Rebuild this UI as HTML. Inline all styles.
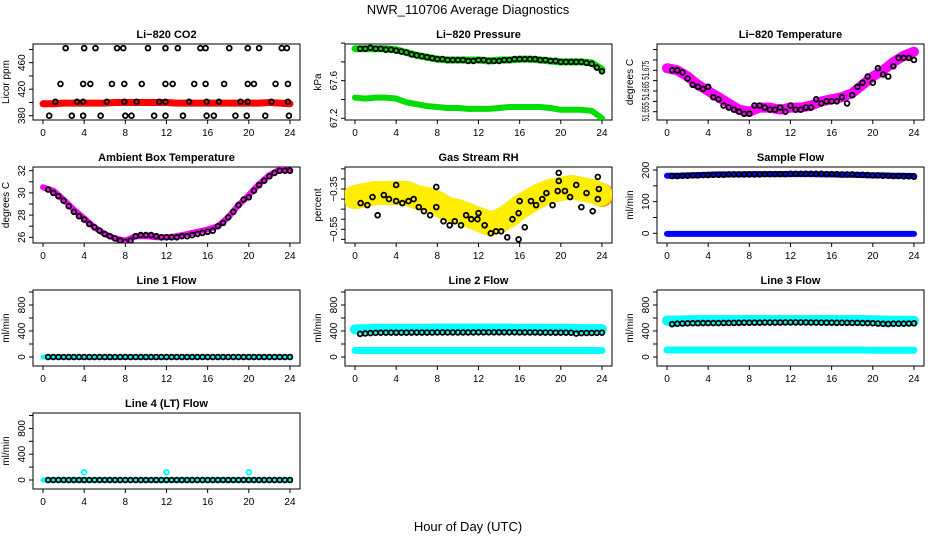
<!DOCTYPE html>
<html><head><meta charset="utf-8"><style>
body{margin:0;background:#fff;}
svg{display:block;font-family:"Liberation Sans",sans-serif;}
</style></head><body>
<svg id="c" width="936" height="540" xmlns="http://www.w3.org/2000/svg">
<text x="468" y="14" text-anchor="middle" font-size="13">NWR_110706  Average Diagnostics</text>
<text x="468" y="531" text-anchor="middle" font-size="13">Hour of Day (UTC)</text>
</svg>
<script>
// ---------- data ----------
const H48=[0.5,1,1.5,2,2.5,3,3.5,4,4.5,5,5.5,6,6.5,7,7.5,8,8.5,9,9.5,10,10.5,11,11.5,12,12.5,13,13.5,14,14.5,15,15.5,16,16.5,17,17.5,18,18.5,19,19.5,20,20.5,21,21.5,22,22.5,23,23.5,24];
const H25=[0,1,2,3,4,5,6,7,8,9,10,11,12,13,14,15,16,17,18,19,20,21,22,23,24];
const xTicks=[0,4,8,12,16,20,24];

const co2Hours=[2.2,4.0,5.1,7.2,7.8,10.2,11.9,13.1,15.3,15.8,18.1,19.9,21.0,23.2,23.7, 1.7,3.9,4.6,6.7,7.9,9.6,11.9,12.6,14.7,15.8,17.6,19.9,20.5,22.6,23.8, 1.2,3.3,3.9,6.2,7.9,9.1,11.3,11.9,14.2,15.9,17.1,19.2,19.9,22.2,23.8, 0.6,2.8,3.9,5.6,8.0,8.6,10.8,11.9,13.6,15.9,16.6,18.7,19.8,21.6,23.9];
const co2Vals=[482,482,482,482,482,482,482,482,482,482,482,482,482,482,482, 428,428,428,428,428,428,428,428,428,428,428,428,428,428,428, 401,401,401,401,401,401,401,401,401,401,401,401,401,401,401, 380,380,380,380,380,380,380,380,380,380,380,380,380,380,380];
const co2Band=[398,398,399,399,399,399,399,400,400,400,400,400,400,399,399,399,399,399,399,399,399,399,400,399,398];

const presBlack=[67.94,67.94,67.95,67.94,67.94,67.93,67.93,67.92,67.91,67.90,67.88,67.87,67.86,67.85,67.84,67.83,67.83,67.82,67.82,67.82,67.82,67.81,67.81,67.82,67.82,67.81,67.81,67.81,67.82,67.82,67.83,67.83,67.83,67.83,67.83,67.82,67.82,67.81,67.81,67.80,67.80,67.80,67.80,67.80,67.79,67.78,67.74,67.70];
const presBandHi=[67.94,67.94,67.94,67.94,67.93,67.90,67.87,67.85,67.83,67.82,67.82,67.82,67.82,67.81,67.82,67.82,67.83,67.83,67.82,67.81,67.80,67.80,67.80,67.79,67.72];
const presBandLo=[67.42,67.41,67.42,67.42,67.41,67.37,67.35,67.33,67.32,67.31,67.31,67.30,67.30,67.30,67.31,67.32,67.32,67.32,67.32,67.31,67.29,67.29,67.29,67.28,67.20];

const tempBlack=[51.675,51.675,51.674,51.671,51.668,51.667,51.666,51.667,51.662,51.661,51.658,51.657,51.656,51.655,51.654,51.654,51.658,51.658,51.657,51.656,51.656,51.657,51.655,51.658,51.656,51.656,51.657,51.657,51.661,51.659,51.660,51.660,51.660,51.662,51.659,51.663,51.667,51.669,51.672,51.669,51.676,51.673,51.672,51.677,51.681,51.681,51.681,51.680];
const tempBand=[51.676,51.675,51.672,51.668,51.665,51.662,51.659,51.656,51.655,51.657,51.657,51.656,51.657,51.657,51.658,51.660,51.661,51.662,51.664,51.668,51.672,51.675,51.679,51.682,51.684];

const ambBlack=[30.3,30.0,29.7,29.3,28.8,28.3,27.9,27.6,27.2,26.9,26.6,26.3,26.1,25.9,25.7,25.6,25.7,26.1,26.2,26.2,26.2,26.1,26.0,26.0,26.0,26.0,26.1,26.1,26.2,26.3,26.4,26.5,26.6,27.0,27.3,27.8,28.3,28.9,29.4,29.6,30.2,30.7,31.1,31.5,31.8,32.0,32.0,32.0];
const ambBand=[30.5,30.2,29.4,28.5,27.7,26.9,26.3,25.9,25.7,26.1,26.1,26.0,26.0,26.1,26.3,26.5,26.7,27.0,27.8,28.9,29.8,30.8,31.6,32.1,32.0];

const rhHours=[0.55,1.2,1.7,2.2,2.8,3.3,4,4,4.6,5.2,5.7,6.2,6.7,7.3,7.9,7.9,8.6,9.2,9.7,10.3,10.8,11.3,11.9,12,12.6,13.2,13.7,14.2,14.8,15.3,15.9,15.9,16,16.5,17.1,17.6,18.2,18.6,19.2,19.7,19.8,19.8,20.4,20.9,21.5,22,22.5,23.1,23.6,23.7,23.6];
const rhVals=[-0.42,-0.43,-0.39,-0.48,-0.38,-0.40,-0.41,-0.33,-0.42,-0.41,-0.40,-0.44,-0.46,-0.48,-0.34,-0.44,-0.51,-0.53,-0.51,-0.53,-0.48,-0.50,-0.50,-0.47,-0.53,-0.57,-0.56,-0.56,-0.59,-0.50,-0.47,-0.60,-0.41,-0.54,-0.41,-0.43,-0.40,-0.37,-0.43,-0.36,-0.31,-0.27,-0.36,-0.39,-0.33,-0.44,-0.37,-0.46,-0.29,-0.35,-0.40];
const rhBand=[-0.39,-0.38,-0.37,-0.37,-0.37,-0.37,-0.39,-0.40,-0.42,-0.45,-0.46,-0.48,-0.50,-0.52,-0.51,-0.48,-0.44,-0.41,-0.38,-0.36,-0.35,-0.34,-0.35,-0.36,-0.38];

const sampBlack=[181,181,182,182,183,183,184,184,185,185,185,186,186,186,186,186,186,186,187,187,187,187,187,188,188,188,188,188,188,188,187,187,187,186,186,186,185,185,184,183,183,182,182,181,181,180,180,179];
const sampBandHi=[182,182,183,184,185,186,186,186,187,187,187,187,187,187,187,186,186,185,185,184,183,183,182,182,181];
const sampBandLo=[-2,-2,-2,-2,-2,-2,-2,-2,-2,-2,-2,-2,-2,-2,-2,-2,-2,-2,-2,-2,-2,-2,-2,-2,-2];

const l1Black=[0,0,0,0,0,0,0,0,0,0,0,0,0,0,0,0,0,0,0,0,0,0,0,0,0,0,0,0,0,0,0,0,0,0,0,0,0,0,0,0,0,0,0,0,0,0,0,0];
const l1Band=[0,0,-5,-8,-8,-8,-8,-8,-8,-8,-8,-8,-5,0,0,0,0,0,0,0,0,0,0,0,0];

const l2Black=[355,362,368,372,374,375,375,375,375,375,376,376,376,376,377,378,378,378,378,378,378,378,379,380,380,380,380,380,380,380,380,379,378,378,378,376,376,376,375,375,375,374,360,368,370,370,372,374];
const l2BandHi=[425,428,432,432,432,432,432,432,438,438,438,438,438,438,438,438,432,432,432,432,432,432,430,430,430];
const l2BandLo=[100,100,100,100,100,100,100,100,100,100,100,100,100,100,100,100,100,100,100,100,100,100,100,100,100];

const l3Black=[505,512,515,518,520,520,522,522,522,522,524,524,525,526,528,528,528,528,530,530,530,530,532,532,532,532,532,530,530,528,528,528,526,526,526,525,525,522,522,520,515,510,508,512,512,512,515,518];
const l3BandHi=[560,560,565,568,568,568,568,568,568,568,568,568,568,568,568,568,568,568,568,568,565,560,560,558,555];
const l3BandLo=[108,108,108,108,108,108,108,108,108,108,108,108,108,108,108,108,108,108,108,108,105,105,105,105,105];

const l4Black=[0,0,0,0,0,0,0,0,0,0,0,0,0,0,0,0,0,0,0,0,0,0,0,0,0,0,0,0,0,0,0,0,0,0,0,0,0,0,0,0,0,0,0,0,0,0,0,0];
const l4Band=[0,0,0,0,0,0,0,0,0,0,0,0,0,0,0,0,0,0,0,0,0,0,0,0,0];
const l4SpikeHours=[4,12,20];
const l4SpikeVals=[120,120,120];

// ---------- drawing ----------
const svg=document.getElementById('c');
const NS='http://www.w3.org/2000/svg';
function mk(tag,at,parent){const e=document.createElementNS(NS,tag);for(const k in at)e.setAttribute(k,at[k]);(parent||svg).appendChild(e);return e;}

function panel(name,title,ylab,col,row,v0,p0,v1,p1,ticks,labels,lblLen){
  const L=[33,345,657][col], T=[44,167,290,413][row], W=267, Hh=76;
  const g=mk('g',{});
  
  
  const xs=h=>L+10+h*10.29;
  const ys=v=>p0+(v-v0)*(p1-p0)/(v1-v0);
  const box=mk('rect',{x:L,y:T,width:W,height:Hh,fill:'none',stroke:'#000','stroke-width':1},g);
  
  
  const t=mk('text',{x:L+W/2,y:T-6,'text-anchor':'middle','font-size':11,'font-weight':'bold'},g);
  t.textContent=title;
  
  
  const yl=mk('text',{x:0,y:0,'text-anchor':'middle','font-size':10,transform:`translate(${L-24},${T+Hh/2}) rotate(-90)`},g);
  yl.textContent=ylab;
  
  
  const xa=mk('g',{},g);
  
  
  mk('line',{x1:xs(0),x2:xs(24),y1:T+Hh,y2:T+Hh,stroke:'#000'},xa);
  xTicks.forEach(h=>{
    mk('line',{x1:xs(h),x2:xs(h),y1:T+Hh,y2:T+Hh+4,stroke:'#000'},xa);
    const tl=mk('text',{x:xs(h),y:T+Hh+16,'text-anchor':'middle','font-size':10},xa);
    tl.textContent=h;
    
    
  });
  const ya=mk('g',{},g);
  
  
  ticks.forEach(v=>{mk('line',{x1:L-4,x2:L,y1:ys(v),y2:ys(v),stroke:'#000'},ya);});
  labels.forEach(v=>{
    const at={x:0,y:0,'text-anchor':'middle','font-size':10,transform:`translate(${L-8},${ys(v)}) rotate(-90)`};
    if(lblLen){at.textLength=lblLen;at.lengthAdjust='spacingAndGlyphs';}
    const tl=mk('text',at,ya);
    tl.textContent=String(v).replace('-','\u2212');
    
    
  });
  const clip='clip'+name;
  const cp=mk('clipPath',{id:clip},g);mk('rect',{x:L,y:T,width:W,height:Hh},cp);
  const plot=mk('g',{'clip-path':`url(#${clip})`},g);
  return {xs,ys,plot};
}
function band(P,hours,vals,color,w,name,dash){
  const pts=hours.map((h,i)=>P.xs(h).toFixed(1)+','+P.ys(vals[i]).toFixed(1)).join(' ');
  const a={points:pts,fill:'none',stroke:color,'stroke-width':w,'stroke-linejoin':'round','stroke-linecap':'round'};
  if(dash)a['stroke-dasharray']=dash;
  const pl=mk('polyline',a,P.plot);
  
  
}
function pts(P,hours,vals,color,name){
  const g=mk('g',{},P.plot);
  
  
  hours.forEach((h,i)=>{
    const c=mk('circle',{cx:P.xs(h),cy:P.ys(vals[i]),r:2.4,fill:'none',stroke:color,'stroke-width':1.8},g);
    
    
  });
}

let P;
P=panel('co2','Li\u2212820 CO2','Licor ppm',0,0,380,115.7,420,89.2,[380,400,420,440,460,480],[380,420,460]);
band(P,H25,co2Band,'#ff0000',7,'co2-band');
pts(P,co2Hours,co2Vals,'#000','co2-points');

P=panel('pressure','Li\u2212820 Pressure','kPa',1,0,67.2,118.3,67.6,80.7,[67.2,67.4,67.6,67.8,68.0],[67.2,67.6]);
band(P,H25,presBandHi,'#00dd00',7,'pressure-band-high');
band(P,H25,presBandLo,'#00dd00',6,'pressure-band-low');
pts(P,H48,presBlack,'#000','pressure-points');

P=panel('li-temp','Li\u2212820 Temperature','degrees C',2,0,51.655,111.7,51.665,91,[51.655,51.66,51.665,51.67,51.675,51.68,51.685],[51.655,51.665,51.675],19);
band(P,H25,tempBand,'#ff00ff',10,'temp-band');
pts(P,H48,tempBlack,'#000','temp-points');

P=panel('ambient','Ambient Box Temperature','degrees C',0,1,26,237.3,32,170.7,[26,27,28,29,30,31,32],[26,28,30,32]);
band(P,H25,ambBand,'#ff00ff',6,'ambient-band');
pts(P,H48,ambBlack,'#000','ambient-points');

P=panel('rh','Gas Stream RH','percent',1,1,-0.35,189,-0.55,229.3,[-0.25,-0.3,-0.35,-0.4,-0.45,-0.5,-0.55,-0.6],[-0.35,-0.55]);
band(P,H25,rhBand,'#ff9900',24,'rh-band');
band(P,H25,rhBand,'#ffee00',24,'rh-band-texture','1.5 2.5');
pts(P,rhHours,rhVals,'#000','rh-points');

P=panel('sample-flow','Sample Flow','ml/min',2,1,0,233.3,200,170,[0,50,100,150,200],[0,100,200]);
band(P,H25,sampBandHi,'#0000ff',6,'sample-band-high');
band(P,H25,sampBandLo,'#0000ff',6,'sample-band-low');
pts(P,H48,sampBlack,'#000','sample-points');

const fT=[0,200,400,600,800,1000], fL=[0,400,800];
P=panel('line1','Line 1 Flow','ml/min',0,2,0,357,400,331,fT,fL);
band(P,H25,l1Band,'#00ffff',5,'line1-band');
pts(P,H48,l1Black,'#000','line1-points');

P=panel('line2','Line 2 Flow','ml/min',1,2,0,357,400,331,fT,fL);
band(P,H25,l2BandHi,'#00ffff',10,'line2-band-high');
band(P,H25,l2BandLo,'#00ffff',7,'line2-band-low');
pts(P,H48,l2Black,'#000','line2-points');

P=panel('line3','Line 3 Flow','ml/min',2,2,0,357,400,331,fT,fL);
band(P,H25,l3BandHi,'#00ffff',10,'line3-band-high');
band(P,H25,l3BandLo,'#00ffff',7,'line3-band-low');
pts(P,H48,l3Black,'#000','line3-points');

P=panel('line4','Line 4 (LT) Flow','ml/min',0,3,0,480,400,454.2,fT,fL);
band(P,H25,l4Band,'#00ffff',5,'line4-band');
pts(P,H48,l4Black,'#000','line4-points');
pts(P,l4SpikeHours,l4SpikeVals,'#00ffff','line4-spikes');
</script>
</body></html>
